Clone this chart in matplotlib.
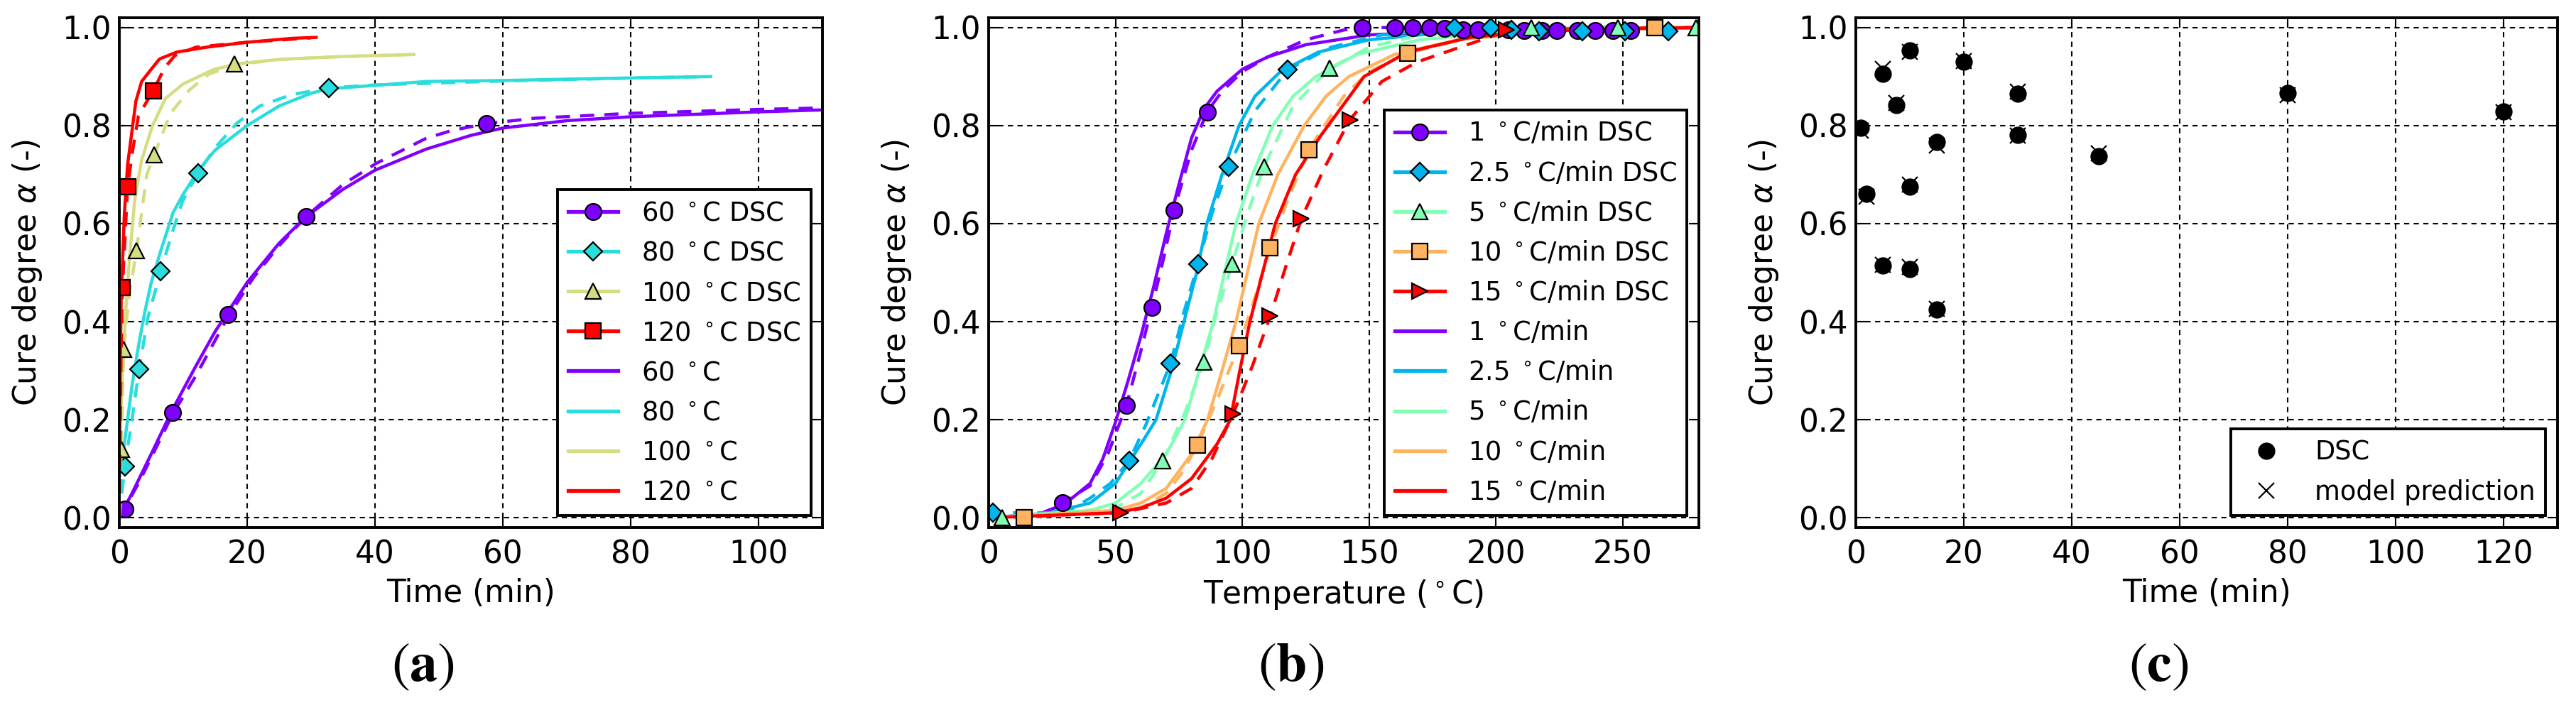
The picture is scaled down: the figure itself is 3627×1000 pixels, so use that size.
import numpy as np
import matplotlib.pyplot as plt
from matplotlib.lines import Line2D

# ---------------- (a) isothermal cure, alpha vs time ----------------
labels_a = ['60', '80', '100', '120']

t60_dsc = [0, 3, 8.3, 12, 17, 21, 25, 29.2, 35, 40.2, 48, 52, 57.4, 65, 80, 100, 110]
a60_dsc = [0, 0.07, 0.21, 0.29, 0.41, 0.49, 0.555, 0.614, 0.68, 0.723, 0.774, 0.79, 0.804, 0.815, 0.825, 0.833, 0.836]
t60_mod = [0, 2, 5, 8.3, 12, 15, 17, 20, 25, 29.2, 35, 40, 48, 55, 60, 70, 80, 90, 100, 110]
a60_mod = [0, 0.05, 0.13, 0.22, 0.31, 0.38, 0.42, 0.48, 0.56, 0.614, 0.67, 0.709, 0.752, 0.78, 0.795, 0.81, 0.818, 0.823, 0.828, 0.832]
t60_mk = [0.85, 8.3, 17.0, 29.2, 57.4]
a60_mk = [0.017, 0.215, 0.415, 0.614, 0.804]

t80_dsc = [0, 0.85, 2, 3.1, 4.5, 6.5, 8, 9.9, 12.3, 15, 18.4, 22, 26.9, 32.8, 40, 60, 80, 92]
a80_dsc = [0, 0.104, 0.2, 0.303, 0.41, 0.503, 0.57, 0.646, 0.703, 0.755, 0.805, 0.84, 0.863, 0.877, 0.883, 0.891, 0.897, 0.90]
t80_mod = [0, 1, 2, 3, 4, 5, 6.5, 8.4, 10, 12.4, 15, 20, 25, 30, 32.7, 40, 48, 60, 75, 92.5]
a80_mod = [0.08, 0.17, 0.27, 0.35, 0.42, 0.48, 0.545, 0.622, 0.66, 0.709, 0.75, 0.80, 0.84, 0.866, 0.875, 0.882, 0.89, 0.892, 0.896, 0.90]
t80_mk = [0.85, 3.1, 6.5, 12.3, 32.8]
a80_mk = [0.104, 0.303, 0.503, 0.703, 0.877]

t100_dsc = [0, 0.3, 0.7, 1.5, 2.7, 4.3, 5.5, 8, 11, 14, 18.2, 25, 35, 46]
a100_dsc = [0, 0.14, 0.344, 0.45, 0.545, 0.70, 0.741, 0.825, 0.873, 0.905, 0.924, 0.935, 0.941, 0.945]
t100_mod = [0, 0.5, 1, 1.6, 2.4, 3.5, 5.2, 7.2, 10, 14.7, 18.4, 25, 35, 46.1]
a100_mod = [0.1, 0.3, 0.42, 0.53, 0.646, 0.73, 0.80, 0.855, 0.885, 0.914, 0.926, 0.935, 0.941, 0.945]
t100_mk = [0.3, 0.7, 2.7, 5.5, 18.0]
a100_mk = [0.14, 0.344, 0.545, 0.741, 0.926]

t120_dsc = [0, 0.3, 0.5, 1.3, 2.1, 3, 5.3, 7.1, 8.7, 12, 20, 30]
a120_dsc = [0, 0.35, 0.47, 0.675, 0.75, 0.82, 0.871, 0.918, 0.943, 0.96, 0.97, 0.979]
t120_mod = [0, 0.3, 0.8, 1.3, 2.1, 2.6, 3.5, 5, 6.3, 9, 13.7, 20, 27, 30.8]
a120_mod = [0.15, 0.45, 0.62, 0.72, 0.80, 0.85, 0.89, 0.915, 0.936, 0.95, 0.96, 0.97, 0.978, 0.98]
t120_mk = [0.5, 1.3, 5.3]
a120_mk = [0.47, 0.675, 0.871]

# ---------------- (b) dynamic cure, alpha vs temperature ----------------
labels_b = ['1', '2.5', '5', '10', '15']

T1_dsc = [0, 20, 29, 40, 47, 54.3, 60, 64.3, 69, 73.1, 80, 86.1, 92, 100, 110, 125, 140, 147, 255]
a1_dsc = [0, 0.005, 0.03, 0.065, 0.13, 0.229, 0.34, 0.429, 0.53, 0.628, 0.75, 0.828, 0.87, 0.91, 0.94, 0.975, 0.995, 1.0, 1.0]
T1_mod = [0, 20, 30, 40, 45, 50, 55, 60, 65, 70, 75, 80, 85, 90, 100, 110, 125, 150, 200, 280]
a1_mod = [0, 0.008, 0.028, 0.07, 0.12, 0.195, 0.28, 0.37, 0.47, 0.58, 0.68, 0.775, 0.835, 0.87, 0.915, 0.94, 0.965, 0.985, 0.997, 1.0]
T1_mk = [29.1, 54.3, 64.3, 73.1, 86.1, 147.3, 160.2, 167.2, 173.8, 179.8, 187, 193, 205, 211, 218, 224, 232, 239, 246, 253]
a1_mk = [0.03, 0.229, 0.429, 0.628, 0.828, 1.0, 1.0, 1.0, 1.0, 0.998, 0.996, 0.995, 0.995, 0.994, 0.994, 0.994, 0.994, 0.994, 0.994, 0.994]

T2_dsc = [0, 30, 40, 48, 55.4, 62, 71.7, 77, 82.5, 88, 94.6, 105, 117.9, 135, 155, 185, 270]
a2_dsc = [0.01, 0.01, 0.04, 0.07, 0.116, 0.19, 0.315, 0.42, 0.517, 0.62, 0.716, 0.83, 0.914, 0.96, 0.985, 1.0, 1.0]
T2_mod = [0, 20, 40, 50, 55, 60, 66, 72, 77, 82, 86, 92, 98.7, 105, 115, 130, 150, 180, 220, 280]
a2_mod = [0, 0.005, 0.03, 0.07, 0.11, 0.15, 0.2, 0.3, 0.4, 0.5, 0.6, 0.7, 0.8, 0.86, 0.91, 0.95, 0.975, 0.99, 0.997, 1.0]
T2_mk = [1.6, 55.4, 71.7, 82.5, 94.6, 117.9, 183.7, 198, 206, 217, 234, 251, 268]
a2_mk = [0.01, 0.116, 0.315, 0.517, 0.716, 0.914, 1.0, 1.0, 0.995, 0.993, 0.993, 0.993, 0.993]

T5_dsc = [0, 5.2, 50, 60, 68.6, 77, 84.8, 90, 96, 102, 108.5, 120, 134.5, 150, 170, 200, 280]
a5_dsc = [0, 0, 0.02, 0.05, 0.116, 0.21, 0.317, 0.42, 0.518, 0.62, 0.716, 0.84, 0.917, 0.96, 0.985, 0.998, 1.0]
T5_mod = [0, 40, 50, 60, 70, 77.4, 83, 88.6, 93, 97.5, 104, 112, 120, 129, 145, 170, 200, 240, 280]
a5_mod = [0, 0.015, 0.03, 0.07, 0.13, 0.2, 0.3, 0.4, 0.5, 0.6, 0.7, 0.8, 0.86, 0.9, 0.945, 0.975, 0.99, 0.998, 1.0]
T5_mk = [5.2, 68.6, 84.8, 96, 108.5, 134.5, 214, 248, 279]
a5_mk = [0.0, 0.116, 0.317, 0.518, 0.716, 0.917, 1.0, 1.0, 1.0]

T10_dsc = [0, 14.1, 60, 70, 76, 82.3, 90, 98.7, 105, 111, 118, 126.2, 140, 150, 165.3, 190, 220, 263, 280]
a10_dsc = [0, 0, 0.02, 0.05, 0.09, 0.148, 0.24, 0.351, 0.45, 0.55, 0.65, 0.751, 0.86, 0.91, 0.948, 0.98, 0.995, 1.0, 1.0]
T10_mod = [0, 50, 60, 70, 80, 86.3, 92, 97.5, 102, 106.5, 114, 124.4, 133, 142, 160, 185, 220, 280]
a10_mod = [0, 0.015, 0.03, 0.06, 0.13, 0.2, 0.3, 0.4, 0.5, 0.6, 0.7, 0.8, 0.86, 0.9, 0.945, 0.975, 0.993, 1.0]
T10_mk = [14.1, 82.3, 98.7, 111, 126.2, 165.3, 262.7]
a10_mk = [0.0, 0.148, 0.351, 0.55, 0.751, 0.948, 1.0]

T15_dsc = [0, 52.2, 70, 80, 88, 96.4, 104, 111, 117, 123.3, 132, 142.4, 155, 169, 200, 240, 280]
a15_dsc = [0, 0.01, 0.03, 0.06, 0.12, 0.212, 0.31, 0.411, 0.51, 0.61, 0.71, 0.812, 0.89, 0.93, 0.985, 0.998, 1.0]
T15_mod = [0, 50, 60, 70, 80, 90, 95.3, 99, 103, 108, 113, 121, 131, 148, 165, 190, 220, 280]
a15_mod = [0, 0.01, 0.02, 0.04, 0.08, 0.15, 0.2, 0.3, 0.4, 0.5, 0.6, 0.7, 0.78, 0.9, 0.95, 0.98, 0.995, 1.0]
T15_mk = [52.2, 96.4, 111, 123.3, 142.4, 204]
a15_mk = [0.01, 0.212, 0.411, 0.61, 0.812, 0.995]

# ---------------- (c) DSC vs model prediction ----------------
t_c = [1, 2, 5, 5, 7.5, 10, 10, 10, 15, 15, 20, 30, 30, 45, 80, 120]
a_c_dsc = [0.796, 0.661, 0.905, 0.514, 0.842, 0.953, 0.675, 0.507, 0.766, 0.424, 0.930, 0.865, 0.781, 0.737, 0.866, 0.829]
a_c_mod = [0.790, 0.655, 0.915, 0.516, 0.846, 0.950, 0.680, 0.511, 0.760, 0.426, 0.932, 0.869, 0.779, 0.744, 0.862, 0.827]


FS = 31.5
LEG_FS = 26.5
LW = 3.2
MS = 16.5
DASH = (4.5, 3.2)

plt.rcParams.update({
    'font.family': 'DejaVu Sans',
    'font.size': FS,
})

fig = plt.figure(figsize=(36.27, 10), dpi=100)
ax_a = fig.add_axes([0.0463, 0.257, 0.2730, 0.718])
ax_b = fig.add_axes([0.3838, 0.257, 0.2757, 0.718])
ax_c = fig.add_axes([0.7204, 0.257, 0.2724, 0.718])


def style_axes(ax, xlim, xticks, xlabel):
    ax.set_xlim(*xlim)
    ax.set_ylim(-0.02, 1.02)
    ax.set_xticks(xticks)
    ax.set_yticks([0, 0.2, 0.4, 0.6, 0.8, 1.0])
    ax.set_yticklabels(['0.0', '0.2', '0.4', '0.6', '0.8', '1.0'])
    ax.tick_params(direction='in', top=True, right=True, length=10, width=1.5,
                   labelsize=FS)
    ax.tick_params(axis='x', pad=12)
    ax.tick_params(axis='y', pad=8)
    for sp in ax.spines.values():
        sp.set_linewidth(2.8)
    ax.grid(True, color='k', linestyle=(0, (3.5, 3.0)), linewidth=1.5)
    ax.set_axisbelow(True)
    ax.set_xlabel(xlabel, fontsize=FS, labelpad=8)
    ax.set_ylabel(r'Cure degree $\alpha$ (-)', fontsize=FS, labelpad=18)


def make_legend(ax, handles, labels, **kw):
    leg = ax.legend(handles, labels, loc='lower right', fontsize=LEG_FS,
                    fancybox=False, framealpha=1, edgecolor='k', numpoints=1,
                    handlelength=1.9, handletextpad=0.9, labelspacing=0.52,
                    borderpad=0.4, borderaxespad=0.45, **kw)
    leg.get_frame().set_linewidth(2.8)
    return leg


# ---- panel (a)
cols_a = [plt.cm.rainbow(v) for v in np.linspace(0, 1, 4)]
mk_a = ['o', 'D', '^', 's']
dsc_a = [(t60_dsc, a60_dsc), (t80_dsc, a80_dsc), (t100_dsc, a100_dsc), (t120_dsc, a120_dsc)]
mod_a = [(t60_mod, a60_mod), (t80_mod, a80_mod), (t100_mod, a100_mod), (t120_mod, a120_mod)]
pts_a = [(t60_mk, a60_mk), (t80_mk, a80_mk), (t100_mk, a100_mk), (t120_mk, a120_mk)]

h_dsc, h_mod = [], []
for i in range(4):
    c = cols_a[i]
    ax_a.plot(*mod_a[i], '-', color=c, lw=LW)
    ax_a.plot(*dsc_a[i], '--', color=c, lw=LW, dashes=DASH)
    ms = MS * (0.82 if mk_a[i] == 'D' else 1.0)
    ax_a.plot(*pts_a[i], ls='none', marker=mk_a[i], ms=ms, mfc=c, mec='k', mew=1.6)
    h_dsc.append(Line2D([], [], color=c, lw=LW + 0.6, marker=mk_a[i], ms=ms, mfc=c, mec='k', mew=1.6))
    h_mod.append(Line2D([], [], color=c, lw=LW + 0.6))

style_axes(ax_a, (0, 110), [0, 20, 40, 60, 80, 100], 'Time (min)')
make_legend(ax_a, h_dsc + h_mod,
            [l + r' $^\circ$C DSC' for l in labels_a] + [l + r' $^\circ$C' for l in labels_a])

# ---- panel (b)
cols_b = [plt.cm.rainbow(v) for v in np.linspace(0, 1, 5)]
mk_b = ['o', 'D', '^', 's', '>']
dsc_b = [(T1_dsc, a1_dsc), (T2_dsc, a2_dsc), (T5_dsc, a5_dsc), (T10_dsc, a10_dsc), (T15_dsc, a15_dsc)]
mod_b = [(T1_mod, a1_mod), (T2_mod, a2_mod), (T5_mod, a5_mod), (T10_mod, a10_mod), (T15_mod, a15_mod)]
pts_b = [(T1_mk, a1_mk), (T2_mk, a2_mk), (T5_mk, a5_mk), (T10_mk, a10_mk), (T15_mk, a15_mk)]

h_dsc, h_mod = [], []
for i in range(5):
    c = cols_b[i]
    ax_b.plot(*mod_b[i], '-', color=c, lw=LW)
    ax_b.plot(*dsc_b[i], '--', color=c, lw=LW, dashes=DASH)
for i in range(5):
    c = cols_b[i]
    ms = MS * (0.82 if mk_b[i] == 'D' else 1.0)
    ax_b.plot(*pts_b[i], ls='none', marker=mk_b[i], ms=ms, mfc=c, mec='k', mew=1.6)
    h_dsc.append(Line2D([], [], color=c, lw=LW + 0.6, marker=mk_b[i], ms=ms, mfc=c, mec='k', mew=1.6))
    h_mod.append(Line2D([], [], color=c, lw=LW + 0.6))

style_axes(ax_b, (0, 280), [0, 50, 100, 150, 200, 250], r'Temperature ($^\circ$C)')
make_legend(ax_b, h_dsc + h_mod,
            [l + r' $^\circ$C/min DSC' for l in labels_b] + [l + r' $^\circ$C/min' for l in labels_b])

# ---- panel (c)
ax_c.plot(t_c, a_c_mod, ls='none', marker='x', ms=MS, mec='k', mew=1.6, label='model prediction')
ax_c.plot(t_c, a_c_dsc, ls='none', marker='o', ms=MS, mfc='k', mec='k', label='DSC')
style_axes(ax_c, (0, 130), [0, 20, 40, 60, 80, 100, 120], 'Time (min)')
hc = [Line2D([], [], ls='none', marker='o', ms=MS, mfc='k', mec='k'),
      Line2D([], [], ls='none', marker='x', ms=MS, mec='k', mew=1.6)]
make_legend(ax_c, hc, ['DSC', 'model prediction'])

# ---- sub-figure labels
for x, s in [(595, 'a'), (1818, 'b'), (3039, 'c')]:
    fig.text(x / 3627, 1 - 937 / 1000, r'$(\mathbf{' + s + '})$', fontsize=56,
             ha='center', va='center', math_fontfamily='stix')

fig.savefig('out.png', dpi=100, facecolor='white')
